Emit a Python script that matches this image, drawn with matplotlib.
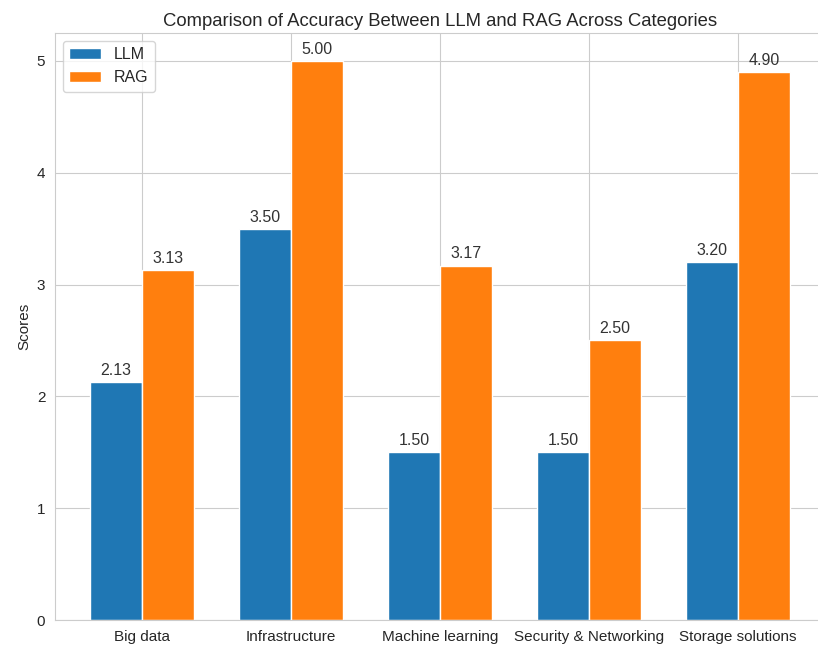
import numpy as np
import matplotlib.pyplot as plt
import seaborn as sns

sns.set_style("whitegrid")
plt.rcParams['font.family'] = ['Liberation Sans', 'DejaVu Sans']

categories = ['Big data', 'Infrastructure', 'Machine learning',
              'Security & Networking', 'Storage solutions']
llm_scores = [2.13, 3.50, 1.50, 1.50, 3.20]
rag_scores = [3.13, 5.00, 3.17, 2.50, 4.90]

x = np.arange(len(categories))
width = 0.35

fig = plt.figure(figsize=(8.18, 6.51), dpi=100)
ax = fig.add_axes([55 / 818, 31 / 651, 770 / 818, 587 / 651])

bars1 = ax.bar(x - width / 2, llm_scores, width, label='LLM', color='#1f77b4')
bars2 = ax.bar(x + width / 2, rag_scores, width, label='RAG', color='#ff7f0e')

ax.set_ylabel('Scores', fontsize=11)
ax.set_title('Comparison of Accuracy Between LLM and RAG Across Categories',
             fontsize=13.3, color='#262626', pad=5)
ax.set_xticks(x)
ax.set_xticklabels(categories)
ax.tick_params(labelsize=11)
ax.legend(loc='upper left', fontsize=11.5)

# valeurs au-dessus des barres
for bars in (bars1, bars2):
    for b in bars:
        h = b.get_height()
        ax.annotate(f'{h:.2f}', xy=(b.get_x() + b.get_width() / 2, h),
                    xytext=(0, 3), textcoords='offset points',
                    ha='center', va='bottom', fontsize=11.5, color='#333333')

plt.savefig('out.png', dpi=100)
